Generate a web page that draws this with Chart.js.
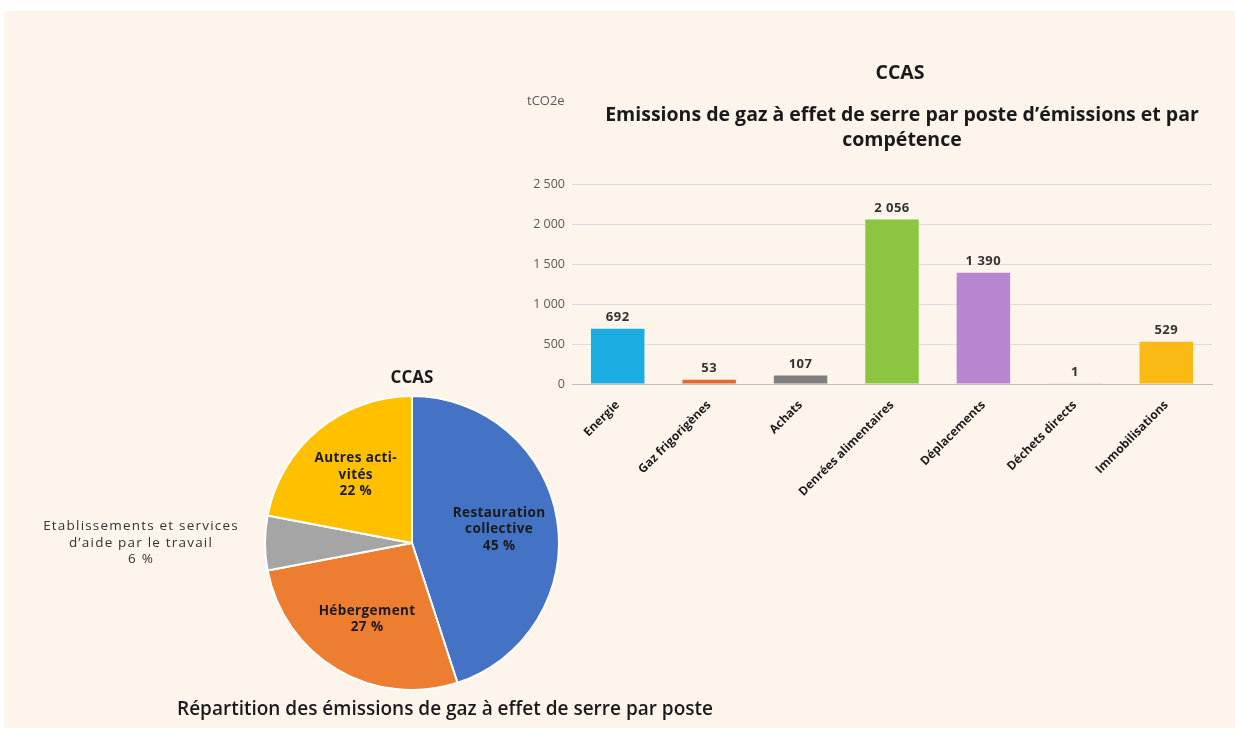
<!DOCTYPE html>
<html lang="fr">
<head>
    <meta charset="UTF-8">
    <title>CCAS - Emissions de gaz à effet de serre</title>
    <script src="https://cdn.jsdelivr.net/npm/chart.js"></script>
    <style>
        body {
            margin: 0;
            background: #ffffff;
            font-family: "Open Sans", Arial, sans-serif;
        }
        .panel {
            position: absolute;
            left: 4px;
            top: 11px;
            width: 1231px;
            height: 717px;
            background: #fdf5eb;
        }
        #barWrap {
            position: absolute;
            left: 515px;
            top: 55px;
            width: 710px;
            height: 449px;
        }
        #pieWrap {
            position: absolute;
            left: 20px;
            top: 360px;
            width: 720px;
            height: 365px;
        }
    </style>
</head>
<body>
    <div class="panel"></div>
    <div id="pieWrap"><canvas id="pieChart"></canvas></div>
    <div id="barWrap"><canvas id="barChart"></canvas></div>

    <script>
        // Données - histogramme
        const barCategories = ['Energie', 'Gaz frigorigènes', 'Achats', 'Denrées alimentaires', 'Déplacements', 'Déchets directs', 'Immobilisations'];
        const barValues = [692, 53, 107, 2056, 1390, 1, 529];
        const barColors = ['#1badE2', '#e2692a', '#7f7f7f', '#8cc540', '#b886d0', '#e8e0d4', '#fbb914'];
        const yTicks = [0, 500, 1000, 1500, 2000, 2500];
        const barTitle = 'CCAS';
        const barSubtitle = ['Emissions de gaz à effet de serre par poste d’émissions et par', 'compétence'];
        const barUnit = 'tCO2e';

        // Données - camembert
        const pieCategories = ['Restauration collective', 'Hébergement', 'Etablissements et services d’aide par le travail', 'Autres activités'];
        const pieValues = [45, 27, 6, 22];
        const pieColors = ['#4472c4', '#ed7d31', '#a5a5a5', '#ffc000'];
        const pieLabelLines = [['Restauration', 'collective'], ['Hébergement'], ['Etablissements et services', 'd’aide par le travail'], ['Autres acti-', 'vités']];
        const pieOutside = [false, false, true, false];
        const pieTitle = 'CCAS';
        const pieCaption = 'Répartition des émissions de gaz à effet de serre par poste';

        const FONT = '"Open Sans", Arial, sans-serif';

        function fmt(v) {
            return String(v).replace(/\B(?=(\d{3})+(?!\d))/g, ' ');
        }

        // titres + étiquettes de valeurs de l'histogramme
        const barDecor = {
            id: 'barDecor',
            afterDatasetsDraw(chart) {
                const ctx = chart.ctx;
                ctx.save();
                ctx.textAlign = 'center';
                ctx.textBaseline = 'middle';
                ctx.fillStyle = '#1a1a1a';
                ctx.font = 'bold 19.5px ' + FONT;
                ctx.fillText(barTitle, 385, 18);
                ctx.fillText(barSubtitle[0], 387, 60);
                ctx.fillText(barSubtitle[1], 387, 85);
                ctx.fillStyle = '#595959';
                ctx.font = '13px ' + FONT;
                ctx.textAlign = 'left';
                ctx.fillText(barUnit, 12, 46);

                ctx.textAlign = 'center';
                ctx.textBaseline = 'bottom';
                ctx.fillStyle = '#333333';
                ctx.font = 'bold 13px ' + FONT;
                ctx.letterSpacing = '0.5px';
                chart.getDatasetMeta(0).data.forEach((bar, i) => {
                    ctx.fillText(fmt(barValues[i]), bar.x, bar.y - 5);
                });
                ctx.restore();
            }
        };

        new Chart(document.getElementById('barChart'), {
            type: 'bar',
            data: {
                labels: barCategories,
                datasets: [{
                    data: barValues,
                    backgroundColor: barColors,
                    barPercentage: 0.9,
                    categoryPercentage: 0.65
                }]
            },
            options: {
                responsive: true,
                maintainAspectRatio: false,
                animation: false,
                layout: { padding: { top: 129, right: 13, left: 7, bottom: 0 } },
                plugins: {
                    legend: { display: false },
                    tooltip: { enabled: false }
                },
                scales: {
                    x: {
                        grid: { display: false },
                        border: { color: '#bfbfbf' },
                        ticks: {
                            minRotation: 45,
                            maxRotation: 45,
                            padding: 6,
                            color: '#1a1a1a',
                            font: { family: FONT, size: 12, weight: 'bold' }
                        },
                        afterFit(scale) { scale.height = 120; }
                    },
                    y: {
                        min: 0,
                        max: yTicks[yTicks.length - 1],
                        afterBuildTicks(scale) { scale.ticks = yTicks.map(v => ({ value: v })); },
                        grid: { color: '#dedede', drawTicks: false },
                        border: { display: false },
                        ticks: {
                            padding: 7,
                            color: '#595959',
                            font: { family: FONT, size: 12.5 },
                            callback: v => fmt(v)
                        },
                        afterFit(scale) { scale.width = 50; }
                    }
                }
            },
            plugins: [barDecor]
        });

        // étiquettes du camembert
        const pieDecor = {
            id: 'pieDecor',
            afterDatasetsDraw(chart) {
                const ctx = chart.ctx;
                ctx.save();
                ctx.textAlign = 'center';
                ctx.textBaseline = 'middle';
                ctx.fillStyle = '#1a1a1a';
                ctx.font = 'bold 17px ' + FONT;
                const arcs = chart.getDatasetMeta(0).data;
                const cx = arcs[0].x, cy = arcs[0].y, r = arcs[0].outerRadius;
                ctx.fillText(pieTitle, cx, cy - r - 18);

                ctx.font = '600 19px ' + FONT;
                ctx.fillText(pieCaption, cx + 33, cy + r + 20);

                arcs.forEach((arc, i) => {
                    const mid = (arc.startAngle + arc.endAngle) / 2;
                    const lines = pieLabelLines[i].concat([pieValues[i] + ' %']);
                    let x, y;
                    if (pieOutside[i]) {
                        ctx.font = '13.5px ' + FONT;
                        ctx.letterSpacing = '1.2px';
                        ctx.fillStyle = '#333333';
                        x = cx - r - 124;
                        y = cy + Math.sin(mid) * r;
                    } else {
                        ctx.font = 'bold 13.5px ' + FONT;
                        ctx.letterSpacing = '0.4px';
                        ctx.fillStyle = '#1a1a1a';
                        x = cx + Math.cos(mid) * r * 0.6;
                        y = cy + Math.sin(mid) * r * 0.6;
                    }
                    const lh = 16.5;
                    lines.forEach((t, k) => {
                        ctx.fillText(t, x, y + (k - (lines.length - 1) / 2) * lh);
                    });
                });
                ctx.restore();
            }
        };

        new Chart(document.getElementById('pieChart'), {
            type: 'pie',
            data: {
                labels: pieCategories,
                datasets: [{
                    data: pieValues,
                    backgroundColor: pieColors,
                    borderColor: '#ffffff',
                    borderWidth: 2
                }]
            },
            options: {
                responsive: true,
                maintainAspectRatio: false,
                animation: false,
                layout: { padding: { left: 244, right: 180, top: 35, bottom: 34 } },
                plugins: {
                    legend: { display: false },
                    tooltip: { enabled: false }
                }
            },
            plugins: [pieDecor]
        });
    </script>
</body>
</html>
